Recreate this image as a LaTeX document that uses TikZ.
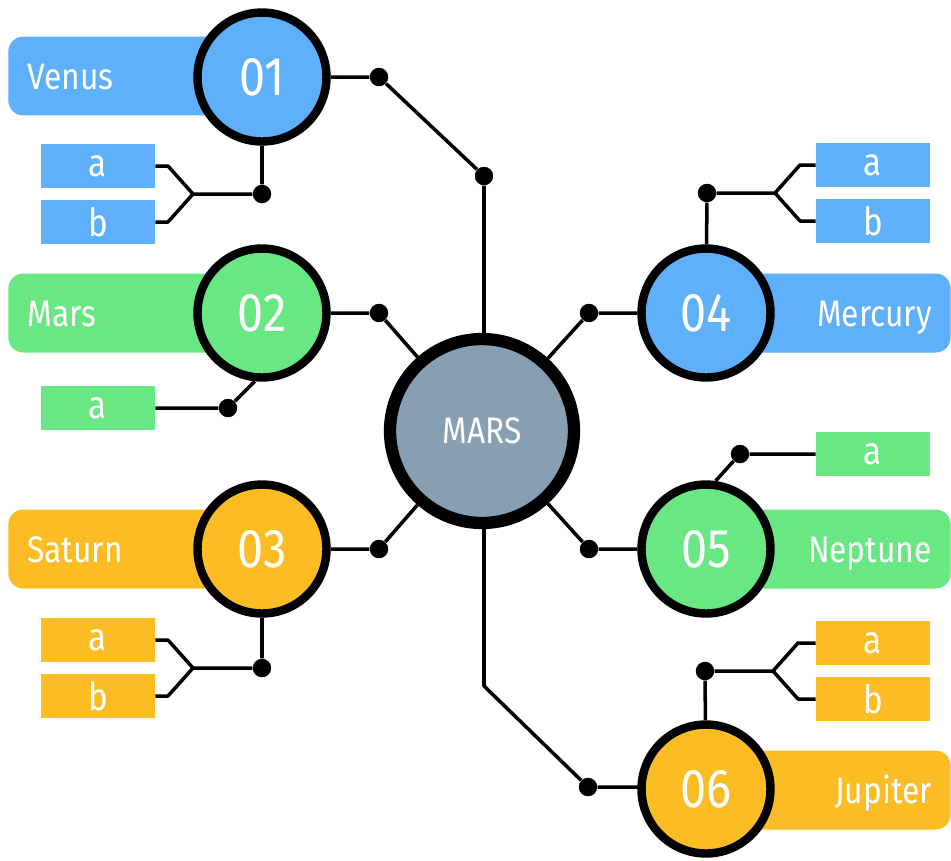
\documentclass[tikz,border=0pt]{standalone}
\usepackage{fontspec}
\setmainfont{Fira Sans}[FakeStretch=0.86]
\usetikzlibrary{backgrounds}
\definecolor{planetblue}{HTML}{5DB0F9}
\definecolor{planetgreen}{HTML}{69E783}
\definecolor{planetgold}{HTML}{FBBD23}
\definecolor{hubgrey}{HTML}{879FB3}

\begin{document}
\begin{tikzpicture}[x=0.02cm, y=-0.02cm,
	wire/.style={line width=2pt, line join=round},
	dot/.style={circle, fill=black, inner sep=0pt, minimum size=0.37cm},
	num/.style={circle, draw=black, line width=4.8pt, minimum size=2.58cm, inner sep=0pt, text=white, font=\fontsize{31}{32}\selectfont},
	tag/.style={rounded corners=0.3cm, minimum height=1.58cm, inner xsep=0.38cm, inner ysep=0pt, text height=15pt, text depth=0pt, text=white, font=\fontsize{21}{24}\selectfont},
	tagl/.style={tag, text width=4.32cm, align=left, anchor=west},
	tagr/.style={tag, text width=4.14cm, align=right, anchor=east},
	sub/.style={minimum width=2.28cm, minimum height=0.88cm, inner sep=0pt, text=white, font=\fontsize{22}{24}\selectfont}]
	\useasboundingbox (0,0) rectangle (951,860);

	% name tags
	\node[tagl, fill=planetblue] (t1) at (8,76) {Venus};
	\node[tagl, fill=planetgreen] (t2) at (8,313) {Mars};
	\node[tagl, fill=planetgold] (t3) at (8,549) {Saturn};
	\node[tagr, fill=planetblue] (t4) at (951,313) {Mercury};
	\node[tagr, fill=planetgreen] (t5) at (951,549) {Neptune};
	\node[tagr, fill=planetgold] (t6) at (951,790) {Jupiter};

	% numbered circles
	\node[num, fill=planetblue] (n1) at (262,77) {01};
	\node[num, fill=planetgreen] (n2) at (262,313) {02};
	\node[num, fill=planetgold] (n3) at (262,549) {03};
	\node[num, fill=planetblue] (n4) at (706,313) {04};
	\node[num, fill=planetgreen] (n5) at (706,549) {05};
	\node[num, fill=planetgold] (n6) at (706,789) {06};

	\node[circle, draw=black, line width=7pt, minimum size=3.68cm, fill=hubgrey, text=white, font=\fontsize{21}{23}\selectfont] (hub) at (482,431) {MARS};

	% small boxes
	\node[sub, fill=planetblue] (s1a) at (98,166) {a};
	\node[sub, fill=planetblue] (s1b) at (98,222) {b};
	\node[sub, fill=planetgreen] (s2a) at (98,408) {a};
	\node[sub, fill=planetgold] (s3a) at (98,640) {a};
	\node[sub, fill=planetgold] (s3b) at (98,696) {b};
	\node[sub, fill=planetblue] (s4a) at (873,165) {a};
	\node[sub, fill=planetblue] (s4b) at (873,221) {b};
	\node[sub, fill=planetgreen] (s5a) at (873,454) {a};
	\node[sub, fill=planetgold] (s6a) at (873,643) {a};
	\node[sub, fill=planetgold] (s6b) at (873,699) {b};

	% dots
	\node[dot] (d1) at (379,77) {};
	\node[dot] (d2) at (484,176) {};
	\node[dot] (d3) at (379,313) {};
	\node[dot] (d4) at (379,549) {};
	\node[dot] (d5) at (589,313) {};
	\node[dot] (d6) at (589,549) {};
	\node[dot] (d7) at (588,787) {};
	\node[dot] (e1) at (262,194) {};
	\node[dot] (e2) at (228,408) {};
	\node[dot] (e3) at (262,668) {};
	\node[dot] (e4) at (707,193) {};
	\node[dot] (e5) at (740,454) {};
	\node[dot] (e6) at (705,671) {};

	\coordinate (j1) at (193,194);
	\coordinate (j3) at (193,668);
	\coordinate (j4) at (775,193);
	\coordinate (j6) at (773,671);
	\coordinate (k6) at (484,686);

	\begin{scope}[on background layer]
		\draw[wire] (n1) -- (d1) -- (d2) -- (d2 |- hub);
		\draw[wire] (n2) -- (d3) -- (hub);
		\draw[wire] (n3) -- (d4) -- (hub);
		\draw[wire] (n4) -- (d5) -- (hub);
		\draw[wire] (n5) -- (d6) -- (hub);
		\draw[wire] (k6 |- hub) -- (k6) -- (d7) -- (d7 -| n6);

		\draw[wire] (n1) -- (e1) -- (j1) -- ++(-25,-28) -- (s1a);
		\draw[wire] (j1) -- ++(-25,28) -- (s1b);
		\draw[wire] (s2a) -- (e2) -- (n2.-96);
		\draw[wire] (n3) -- (e3) -- (j3) -- ++(-25,-28) -- (s3a);
		\draw[wire] (j3) -- ++(-25,28) -- (s3b);
		\draw[wire] (n4) -- (e4) -- (j4) -- ++(25,-28) -- (s4a);
		\draw[wire] (j4) -- ++(25,28) -- (s4b);
		\draw[wire] (s5a) -- (e5) -- (n5.82);
		\draw[wire] (n6) -- (e6) -- (j6) -- ++(25,-28) -- (s6a);
		\draw[wire] (j6) -- ++(25,28) -- (s6b);
	\end{scope}
\end{tikzpicture}
\end{document}
